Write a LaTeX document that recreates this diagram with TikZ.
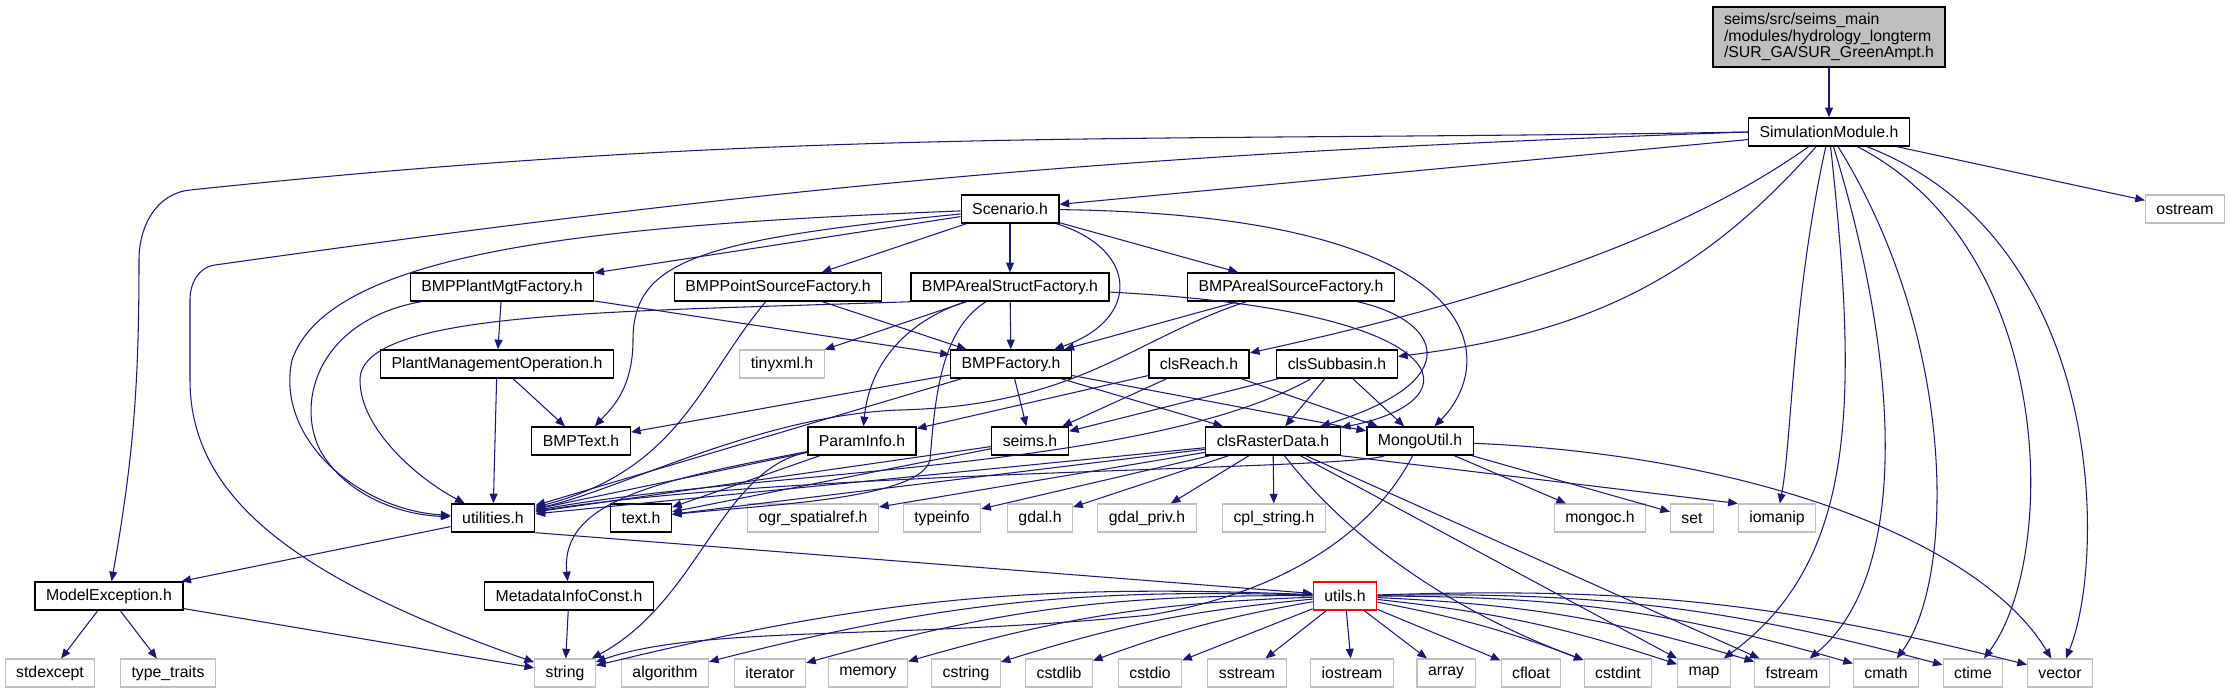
\documentclass[tikz,border=0pt]{standalone}
\usepackage{fontspec}
\setmainfont{Liberation Sans}
\usetikzlibrary{arrows.meta}
\definecolor{edgeblue}{RGB}{25,25,112}
\definecolor{sysgray}{RGB}{191,191,191}

\begin{document}
\begin{tikzpicture}[x=0.02cm, y=0.02cm, >={Triangle[length=5.5pt, width=4.5pt]},
  every node/.style={font=\fontsize{9}{9.6}\selectfont, minimum height=0.56cm, inner xsep=0.22cm, inner ysep=0pt},
  hdr/.style={draw=black, line width=0.8pt},
  sys/.style={draw=sysgray, line width=0.6pt},
  inc/.style={->, draw=edgeblue, line width=0.6pt}]
  \useasboundingbox (0,0) rectangle (2231,-693);

  % headers of the project
  \node[hdr, fill=sysgray, align=left, inner ysep=3.3pt] (root) at (1829,-37) {seims/src/seims\_main\\/modules/hydrology\_longterm\\/SUR\_GA/SUR\_GreenAmpt.h};
  \node[hdr] (sim) at (1829,-132) {SimulationModule.h};
  \node[hdr] (scen) at (1010,-209) {Scenario.h};
  \node[hdr] (plant) at (502,-287) {BMPPlantMgtFactory.h};
  \node[hdr] (point) at (778,-287) {BMPPointSourceFactory.h};
  \node[hdr] (struct) at (1010,-287) {BMPArealStructFactory.h};
  \node[hdr] (source) at (1291,-287) {BMPArealSourceFactory.h};
  \node[hdr] (pmo) at (497,-364) {PlantManagementOperation.h};
  \node[hdr] (bmpf) at (1011,-364) {BMPFactory.h};
  \node[hdr] (reach) at (1199,-364) {clsReach.h};
  \node[hdr] (subb) at (1337,-364) {clsSubbasin.h};
  \node[hdr] (bmptext) at (581,-441) {BMPText.h};
  \node[hdr] (param) at (862,-441) {ParamInfo.h};
  \node[hdr] (seims) at (1030,-441) {seims.h};
  \node[hdr] (raster) at (1273,-441) {clsRasterData.h};
  \node[hdr] (mongo) at (1420,-441) {MongoUtil.h};
  \node[hdr] (util) at (493,-518) {utilities.h};
  \node[hdr] (texth) at (641,-518) {text.h};
  \node[hdr] (modelex) at (109,-596) {ModelException.h};
  \node[hdr] (meta) at (569,-596) {MetadataInfoConst.h};
  \node[hdr, draw=red] (utils) at (1345,-596) {utils.h};

  % system headers
  \node[sys] (ostream) at (2185,-209) {ostream};
  \node[sys] (tinyxml) at (782,-364) {tinyxml.h};
  \node[sys] (ogr) at (813,-518) {ogr\_spatialref.h};
  \node[sys] (typeinfo) at (942,-518) {typeinfo};
  \node[sys] (gdal) at (1040,-518) {gdal.h};
  \node[sys] (gdalpriv) at (1147,-518) {gdal\_priv.h};
  \node[sys] (cpl) at (1274,-518) {cpl\_string.h};
  \node[sys] (mongoc) at (1600,-518) {mongoc.h};
  \node[sys] (set) at (1692,-518) {set};
  \node[sys] (iomanip) at (1777,-518) {iomanip};
  \node[sys] (stdexcept) at (50,-673) {stdexcept};
  \node[sys] (typetraits) at (168,-673) {type\_traits};
  \node[sys] (string) at (565,-673) {string};
  \node[sys] (algorithm) at (665,-673) {algorithm};
  \node[sys] (iterator) at (770,-673) {iterator};
  \node[sys] (memory) at (868,-673) {memory};
  \node[sys] (cstring) at (966,-673) {cstring};
  \node[sys] (cstdlib) at (1059,-673) {cstdlib};
  \node[sys] (cstdio) at (1150,-673) {cstdio};
  \node[sys] (sstream) at (1247,-673) {sstream};
  \node[sys] (iostream) at (1352,-673) {iostream};
  \node[sys] (array) at (1446,-673) {array};
  \node[sys] (cfloat) at (1531,-673) {cfloat};
  \node[sys] (cstdint) at (1618,-673) {cstdint};
  \node[sys] (map) at (1704,-673) {map};
  \node[sys] (fstream) at (1792,-673) {fstream};
  \node[sys] (cmath) at (1886,-673) {cmath};
  \node[sys] (ctime) at (1973,-673) {ctime};
  \node[sys] (vector) at (2060,-673) {vector};

  % includes
  \draw[inc] (root) -- (sim);

  \draw[inc] (sim.west) to[out=181,in=6] (190,-190) to[out=186,in=90] (139,-260) to[out=-90,in=80] (modelex);
  \draw[inc] (sim.west) to[out=182,in=8] (215,-265) to[out=188,in=90] (190,-300) -- (190,-380) .. controls (190,-500) and (300,-580) .. (string);
  \draw[inc] (sim) -- (scen);
  \draw[inc] (sim) .. controls (1650,-260) and (1400,-320) .. (reach);
  \draw[inc] (sim) .. controls (1690,-290) and (1570,-335) .. (subb);
  \draw[inc] (sim) .. controls (1792,-300) and (1792,-440) .. (iomanip);
  \draw[inc] (sim) .. controls (1858,-400) and (1858,-560) .. (map);
  \draw[inc] (sim) .. controls (1905,-380) and (1905,-580) .. (fstream);
  \draw[inc] (sim) .. controls (1958,-340) and (1955,-580) .. (cmath);
  \draw[inc] (sim) .. controls (2058,-250) and (2058,-560) .. (ctime);
  \draw[inc] (sim) .. controls (2108,-240) and (2106,-560) .. (vector);
  \draw[inc] (sim) -- (ostream);

  \draw[inc] (scen) .. controls (600,-225) and (330,-250) .. (292,-360) .. controls (275,-440) and (360,-510) .. (util);
  \draw[inc] (scen) .. controls (700,-240) and (633,-260) .. (633,-340) .. controls (633,-390) and (610,-410) .. (bmptext);
  \draw[inc] (scen) -- (plant);
  \draw[inc] (scen) -- (point);
  \draw[inc] (scen) -- (struct);
  \draw[inc] (scen) .. controls (1140,-250) and (1140,-320) .. (bmpf);
  \draw[inc] (scen) -- (source);
  \draw[inc] (scen) .. controls (1490,-215) and (1500,-360) .. (mongo);

  \draw[inc] (plant) -- (pmo);
  \draw[inc] (plant) .. controls (320,-320) and (295,-400) .. (320,-450) .. controls (345,-495) and (400,-515) .. (util);
  \draw[inc] (plant) -- (bmpf);

  \draw[inc] (point) -- (bmpf);
  \draw[inc] (point) .. controls (700,-380) and (680,-470) .. (util);

  \draw[inc] (struct.south west) .. controls (620,-312) and (360,-310) .. (360,-380) .. controls (360,-430) and (420,-480) .. (util);
  \draw[inc] (struct) -- (tinyxml);
  \draw[inc] (struct) .. controls (910,-320) and (870,-360) .. (param);
  \draw[inc] (struct) .. controls (940,-330) and (935,-400) .. (930,-460) .. controls (920,-500) and (760,-505) .. (texth);
  \draw[inc] (struct) -- (bmpf);
  \draw[inc] (struct) .. controls (1460,-310) and (1480,-400) .. (raster);

  \draw[inc] (source) -- (bmpf);
  \draw[inc] (source) .. controls (1130,-340) and (1080,-405) .. (900,-410) .. controls (760,-415) and (620,-490) .. (util);
  \draw[inc] (source) .. controls (1440,-320) and (1470,-380) .. (raster);

  \draw[inc] (pmo) -- (util);
  \draw[inc] (pmo) -- (bmptext);

  \draw[inc] (bmpf) -- (bmptext);
  \draw[inc] (bmpf) -- (util);
  \draw[inc] (bmpf) -- (seims);
  \draw[inc] (bmpf) -- (raster);
  \draw[inc] (bmpf) -- (mongo);

  \draw[inc] (reach) -- (param);
  \draw[inc] (reach) -- (seims);
  \draw[inc] (reach) -- (mongo);

  \draw[inc] (subb) -- (seims);
  \draw[inc] (subb) -- (raster);
  \draw[inc] (subb) -- (mongo);
  \draw[inc] (subb) .. controls (1150,-470) and (760,-470) .. (util);

  \draw[inc] (param) -- (util);
  \draw[inc] (param) -- (texth);
  \draw[inc] (param) .. controls (660,-480) and (560,-500) .. (meta);
  \draw[inc] (param) .. controls (720,-470) and (700,-600) .. (string);

  \draw[inc] (seims) -- (util);
  \draw[inc] (seims) -- (texth);

  \draw[inc] (raster) -- (util);
  \draw[inc] (raster) -- (texth);
  \draw[inc] (raster) -- (ogr);
  \draw[inc] (raster) -- (typeinfo);
  \draw[inc] (raster) -- (gdal);
  \draw[inc] (raster) -- (gdalpriv);
  \draw[inc] (raster) -- (cpl);
  \draw[inc] (raster.south east) -- (iomanip.north west);
  \draw[inc] (raster) .. controls (1350,-540) and (1450,-610) .. (cstdint);
  \draw[inc] (raster) -- (map);
  \draw[inc] (raster) -- (fstream);

  \draw[inc] (mongo) .. controls (1350,-470) and (800,-470) .. (util);
  \draw[inc] (mongo) .. controls (1380,-520) and (1300,-590) .. (1150,-615) .. controls (900,-640) and (700,-625) .. (string);
  \draw[inc] (mongo) -- (mongoc);
  \draw[inc] (mongo) -- (set);
  \draw[inc] (mongo) .. controls (1750,-455) and (1980,-540) .. (vector);

  \draw[inc] (util) -- (modelex);
  \draw[inc] (util.south east) -- (utils);

  \draw[inc] (modelex) -- (stdexcept);
  \draw[inc] (modelex) -- (typetraits);
  \draw[inc] (modelex) -- (string);
  \draw[inc] (meta) -- (string);

  \draw[inc] (utils) to[bend right=8] (string);
  \draw[inc] (utils) to[bend right=8] (algorithm);
  \draw[inc] (utils) to[bend right=8] (iterator);
  \draw[inc] (utils) to[bend right=7] (memory);
  \draw[inc] (utils) to[bend right=6] (cstring);
  \draw[inc] (utils) to[bend right=5] (cstdlib);
  \draw[inc] (utils) -- (cstdio);
  \draw[inc] (utils) -- (sstream);
  \draw[inc] (utils) -- (iostream);
  \draw[inc] (utils) -- (array);
  \draw[inc] (utils) -- (cfloat);
  \draw[inc] (utils) to[bend left=5] (cstdint);
  \draw[inc] (utils) to[bend left=6] (map);
  \draw[inc] (utils) to[bend left=7] (fstream);
  \draw[inc] (utils) to[bend left=8] (cmath);
  \draw[inc] (utils) to[bend left=8] (ctime);
  \draw[inc] (utils) to[bend left=8] (vector);
\end{tikzpicture}
\end{document}
